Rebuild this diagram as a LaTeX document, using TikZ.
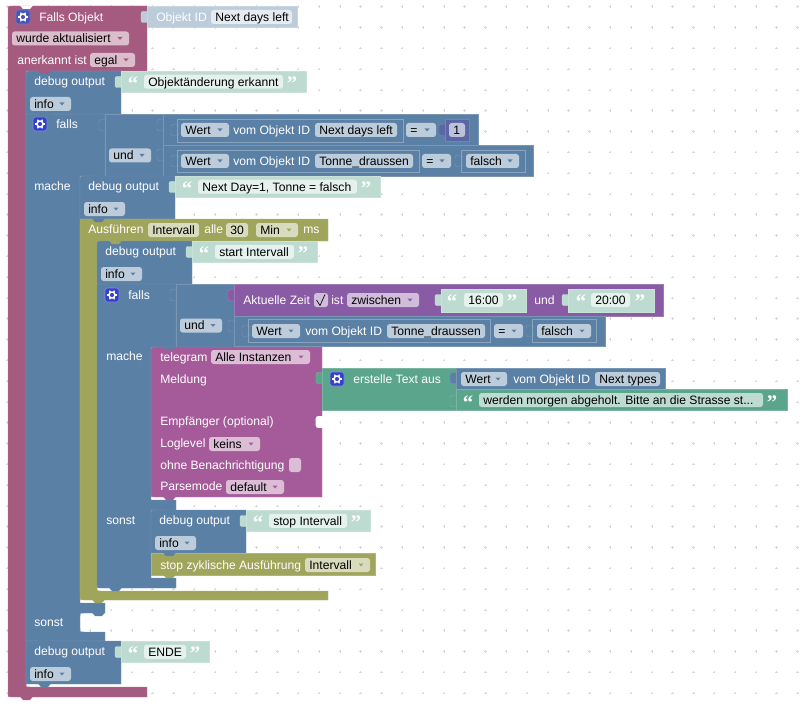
\documentclass[tikz,border=0pt]{standalone}
\usepackage{fontspec}
\usetikzlibrary{calc}
\setmainfont{Liberation Sans}
\newfontfamily\quotefont{Liberation Serif}
\definecolor{hatred}{HTML}{A55B80}
\definecolor{blockblue}{HTML}{5B80A5}
\definecolor{olivegreen}{HTML}{9FA55B}
\definecolor{telegrampink}{HTML}{A55B99}
\definecolor{timepurple}{HTML}{895BA5}
\definecolor{textgreen}{HTML}{5BA58C}
\definecolor{numberblue}{HTML}{5B67A5}
\definecolor{gearblue}{HTML}{3340C8}
\newcommand{\blockfont}{\fontsize{9.1}{11}\selectfont}
\tikzset{
  blk/.style={fill=#1,draw=#1!82!white,line width=0.35pt},
  blocktext/.style={anchor=base west,inner sep=0pt,text=white,font=\blockfont},
  fieldtext/.style={blocktext,text=black},
  quotemark/.style={anchor=base,inner sep=0pt,text=white,font=\quotefont\bfseries\fontsize{15.5}{15.5}\selectfont},
  innerline/.style={draw=blockblue!72!white,line width=0.45pt}
}
% text on a block, vertically centred on #3
\newcommand{\blocklabel}[4]{\node[blocktext] (#1) at (#2,#3+4.3) {#4};}
% editable field, no arrow
\newcommand{\fieldbox}[6]{
  \fill[#2,rounded corners=2pt] (#3,#5-7) rectangle (#4,#5+7);
  \node[fieldtext] (#1) at (#3+4,#5+4.3) {#6};
}
% dropdown field
\newcommand{\ddfield}[6]{
  \fieldbox{#1}{#2!40!white}{#3}{#4}{#5}{#6}
  \fill[#2] (#4-11.5,#5-1.5) -- (#4-6.5,#5-1.5) -- (#4-9,#5+1.5) -- cycle;
}
% puzzle plug on the left edge of a value block
\newcommand{\plug}[3]{\draw[blk=#3,rounded corners=1.5pt] (#1+2,#2-5.5) rectangle (#1-6,#2+5.5);}
\newcommand{\blocktab}[3]{\fill[#3] (#1+12,#2-0.5) -- (#1+15,#2+3) -- (#1+22,#2+3) -- (#1+25,#2-0.5) -- cycle;}
\newcommand{\gearbtn}[3]{
  \filldraw[fill=#3,draw=white!40!#3,line width=0.4pt,rounded corners=2pt] (#1,#2) rectangle (#1+14,#2+14);
  \draw[white,line width=1.1pt] (#1+7,#2+7) circle (3);
  \foreach \a in {0,60,...,300} {
    \draw[white,line width=1pt] ($(#1+7,#2+7)+(\a:3)$) -- ($(#1+7,#2+7)+(\a:5)$);
  }
}
% text block with quotes
\newcommand{\stringblock}[8]{
  \plug{#3}{#4+11}{textgreen!40!white}
  \draw[blk=textgreen!40!white] (#3,#4) rectangle (#5,#4+#6);
  \node[quotemark] (#1open) at (#3+12,#4+#6/2+9) {“};
  \fieldbox{#1}{textgreen!16!white}{#7}{#8}{#4+#6/2}{#2}
  \node[quotemark] (#1close) at (#8+9,#4+#6/2+9) {”};
}
\newcommand{\debugblock}[5]{
  \draw[blk=blockblue] (#2+95,#3) -- (#2+#5,#3) .. controls (#2,#3) .. (#2,#3+#5) -- (#2,#3+43) -- (#2+95,#3+43) -- cycle;
  \blocklabel{#1lab}{#2+8}{#3+10.5}{debug output}
  \ddfield{#1info}{blockblue}{#2+4}{#2+45}{#3+33}{info}
  \stringblock{#1str}{#4}{#2+95}{#3}{\strright}{21.5}{#2+118}{\strright-23}
}
\begin{document}
\begin{tikzpicture}[x=0.75pt,y=-0.75pt]
\useasboundingbox (0,0) rectangle (810,706);
\foreach \i in {0,...,38} {
\foreach \j in {0,...,33} {
\draw[black!15,line width=0.3pt] (7+20.8*\i-1.2,6.6+20.8*\j) -- (7+20.8*\i+1.2,6.6+20.8*\j);
\draw[black!15,line width=0.3pt] (7+20.8*\i,6.6+20.8*\j-1.2) -- (7+20.8*\i,6.6+20.8*\j+1.2);
}
}
% hat block
\draw[blk=hatred] (147,6) -- (12,6) .. controls (8,6) .. (8,10) -- (8,693) .. controls (8,697) .. (12,697) -- (147,697) -- (147,687) -- (30,687) .. controls (26,687) .. (26,683) -- (26,71) -- (147,71) -- cycle;
\gearbtn{16}{10}{numberblue!55!gearblue}
\blocklabel{fallslab}{39}{17}{Falls Objekt}
\ddfield{trigger}{hatred}{12}{129}{38.5}{wurde aktualisiert}
\blocklabel{acklab}{17}{60}{anerkannt ist}
\ddfield{ackfield}{hatred}{90}{135}{60}{egal}
\plug{147}{17}{blockblue!40!white}
\draw[blk=blockblue!40!white] (147,6) rectangle (297,27);
\blocklabel{idlab}{156}{17}{Objekt ID}
\fieldbox{idfield}{blockblue!16!white}{211}{292}{17}{Next days left}
% outer if
\draw[blk=blockblue] (26,114) -- (105,114) -- (105,176) -- (80,176) -- (80,603) -- (105,603) -- (105,613) -- (84,613) .. controls (80,613) .. (80,617) -- (80,628) .. controls (80,632) .. (84,632) -- (105,632) -- (105,641) -- (26,641) -- cycle;
\gearbtn{33}{117}{gearblue}
\blocklabel{iflab}{56}{124}{falls}
\blocklabel{thenlab}{34}{186}{mache}
\blocklabel{elselab}{34}{622}{sonst}
\plug{105}{125}{blockblue}
\draw[blk=blockblue] (105,114) rectangle (163,176);
\ddfield{andfield}{blockblue}{109}{151}{155.5}{und}
\plug{163}{125}{blockblue}
\draw[blk=blockblue] (163,114) rectangle (478,145);
\plug{163}{155}{blockblue}
\draw[blk=blockblue] (163,145) rectangle (533,176);
\plug{177}{130}{blockblue}
\draw[innerline] (177,119) rectangle (403,142);
\ddfield{valuea}{blockblue}{181}{229}{130}{Wert}
\blocklabel{vomalab}{233}{130}{vom Objekt ID}
\fieldbox{ida}{blockblue!40!white}{315}{397}{130}{Next days left}
\ddfield{eqa}{blockblue}{406}{436}{130}{=}
\plug{445}{130}{numberblue}
\draw[blk=numberblue] (445,119) rectangle (469,141);
\fieldbox{numone}{numberblue!40!white}{449}{465}{130}{1}
\plug{177}{161}{blockblue}
\draw[innerline] (177,150) rectangle (419,172);
\ddfield{valueb}{blockblue}{181}{229}{161}{Wert}
\blocklabel{vomblab}{233}{161}{vom Objekt ID}
\fieldbox{idb}{blockblue!40!white}{315}{413}{161}{Tonne\_draussen}
\ddfield{eqb}{blockblue}{422}{451}{161}{=}
\plug{461}{161}{blockblue}
\draw[innerline] (461,150) rectangle (525,172);
\ddfield{boolb}{blockblue}{466}{519}{161}{falsch}
% debug blocks
\def\strright{306}
\debugblock{dbga}{26}{71}{Objektänderung erkannt}{4}
\def\strright{380}
\debugblock{dbgb}{80}{176}{Next Day=1, Tonne = falsch}{4}
% interval block
\draw[blk=olivegreen] (80,219) -- (328,219) -- (328,241) -- (97,241) -- (97,587) .. controls (97,591) .. (101,591) -- (328,591) -- (328,600) -- (84,600) .. controls (80,600) .. (80,596) -- cycle;
\blocklabel{runlab}{88}{229.5}{Ausführen}
\fieldbox{runname}{olivegreen!40!white}{148}{199}{230}{Intervall}
\blocklabel{everylab}{204}{229.5}{alle}
\fieldbox{runval}{olivegreen!40!white}{226}{248}{230}{30}
\ddfield{rununit}{olivegreen}{256}{298}{230}{Min}
\blocklabel{mslab}{303}{229.5}{ms}
% inner if
\draw[blk=blockblue] (97,284) -- (176,284) -- (176,347) -- (151,347) -- (151,500) -- (176,500) -- (176,510) -- (151,510) -- (151,578) -- (176,578) -- (176,588) -- (101,588) .. controls (97,588) .. (97,584) -- cycle;
\gearbtn{105}{288}{gearblue}
\blocklabel{ifblab}{128}{295}{falls}
\blocklabel{thenblab}{106}{356}{mache}
\blocklabel{elseblab}{106}{520}{sonst}
\plug{176}{295}{blockblue}
\draw[blk=blockblue] (176,284) rectangle (234,347);
\ddfield{andbfield}{blockblue}{180}{222}{325.5}{und}
\plug{234}{295}{timepurple}
\draw[blk=timepurple] (234,284) rectangle (663,316);
\blocklabel{timelab}{243}{300}{Aktuelle Zeit}
\fill[timepurple!40!white,rounded corners=2pt] (314,293) rectangle (328,307);
\draw[black,line width=0.5pt] (316.5,300) -- (320,305.5) -- (325,294.5);
\blocklabel{islab}{331}{300}{ist}
\ddfield{timeop}{timepurple}{347}{419}{300}{zwischen}
\blocklabel{timeand}{534}{300}{und}
\plug{441}{300}{textgreen!40!white}
\draw[blk=textgreen!40!white] (441,289) rectangle (526,312);
\node[quotemark] (fromopen) at (452,308.5) {“};
\fieldbox{fromfield}{textgreen!16!white}{464}{503}{300}{16:00}
\node[quotemark] (fromclose) at (512,308.5) {”};
\plug{568}{300}{textgreen!40!white}
\draw[blk=textgreen!40!white] (568,289) rectangle (654,312);
\node[quotemark] (toopen) at (581,308.5) {“};
\fieldbox{tofield}{textgreen!16!white}{591}{630}{300}{20:00}
\node[quotemark] (toclose) at (640,308.5) {”};
\plug{234}{326}{blockblue}
\draw[blk=blockblue] (234,316) rectangle (605,346);
\plug{248}{331}{blockblue}
\draw[innerline] (248,319) rectangle (490,342);
\ddfield{valuec}{blockblue}{252}{300}{331}{Wert}
\blocklabel{vomclab}{305}{331}{vom Objekt ID}
\fieldbox{idc}{blockblue!40!white}{387}{485}{331}{Tonne\_draussen}
\ddfield{eqc}{blockblue}{494}{523}{331}{=}
\plug{532}{331}{blockblue}
\draw[innerline] (532,319) rectangle (596,342);
\ddfield{boolc}{blockblue}{537}{591}{331}{falsch}
\def\strright{317}
\debugblock{dbgc}{97}{241}{start Intervall}{4}
% telegram block
\draw[blk=telegrampink] (322,347) -- (155,347) .. controls (151,347) .. (151,351) -- (151,493) .. controls (151,497) .. (155,497) -- (322,497) -- cycle;
\blocklabel{tglab}{160}{357}{telegram}
\ddfield{tginst}{telegrampink}{211}{310}{357}{Alle Instanzen}
\blocklabel{msglab}{160}{379}{Meldung}
\blocklabel{rcptlab}{160}{421.5}{Empfänger (optional)}
\draw[white,fill=white,rounded corners=1.5pt] (324,416.5) rectangle (316,427.5);
\blocklabel{loglab}{160}{443.5}{Loglevel}
\ddfield{logfield}{telegrampink}{209}{260}{444}{keins}
\blocklabel{silentlab}{160}{465}{ohne Benachrichtigung}
\fill[telegrampink!40!white,rounded corners=2pt] (289,458) rectangle (301,472);
\blocklabel{parselab}{160}{486.5}{Parsemode}
\ddfield{parsefield}{telegrampink}{226}{284}{487}{default}
% text join block
\plug{322}{378}{textgreen}
\draw[blk=textgreen] (322,368) rectangle (456,410);
\gearbtn{330}{372}{gearblue}
\blocklabel{joinlab}{353}{379}{erstelle Text aus}
\plug{456}{378}{blockblue}
\draw[blk=blockblue] (456,368) rectangle (665,389);
\ddfield{valued}{blockblue}{461}{507}{379}{Wert}
\blocklabel{vomdlab}{513}{379}{vom Objekt ID}
\fieldbox{idd}{blockblue!40!white}{595}{660}{379}{Next types}
\plug{456}{401}{textgreen}
\draw[blk=textgreen] (456,389) rectangle (787,410);
\node[quotemark] (joinopen) at (468,409) {“};
\fieldbox{joinfield}{textgreen!40!white}{479}{763}{400}{werden morgen abgeholt. Bitte an die Strasse st...}
\node[quotemark] (joinclose) at (772,409) {”};
% else branch
\def\strright{370}
\debugblock{dbgd}{151}{510}{stop Intervall}{4}
\draw[blk=olivegreen] (151,553) rectangle (375,575);
\blocklabel{stoplab}{160}{565}{stop zyklische Ausführung}
\ddfield{stopfield}{olivegreen}{305}{370}{565}{Intervall}
\def\strright{209}
\debugblock{dbge}{26}{641}{ENDE}{0.01}
% connection tabs
\foreach \x/\y/\c in {8/6/white,26/71/hatred,26/114/blockblue,80/176/blockblue,80/219/blockblue,97/241/olivegreen,97/284/blockblue,151/347/blockblue,151/497/telegrampink,151/510/blockblue,151/553/blockblue,151/575/olivegreen,97/588/blockblue,80/600/olivegreen,80/613/blockblue,26/641/blockblue,26/684/blockblue,8/697/hatred} {
\blocktab{\x}{\y}{\c}
}
\end{tikzpicture}
\end{document}
